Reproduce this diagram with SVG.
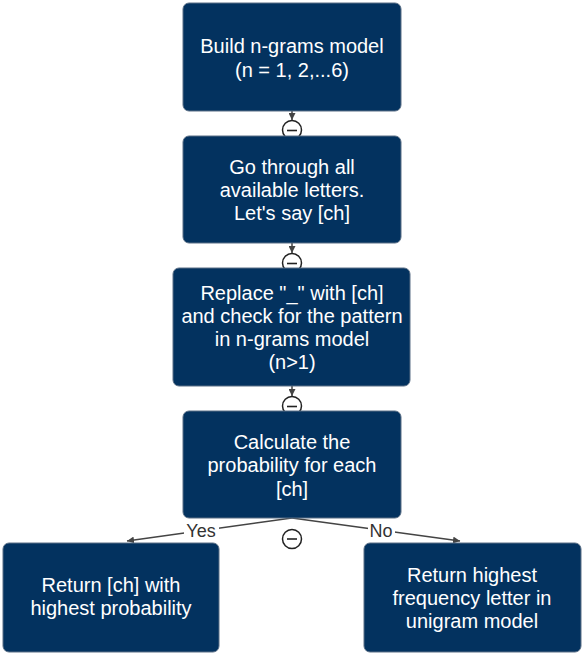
<svg xmlns="http://www.w3.org/2000/svg" width="586" height="662" viewBox="0 0 586 662">
<style>
.box{fill:#03325f;stroke:#5a6f86;stroke-width:1}
.t{font-family:"Liberation Sans",Arial,sans-serif;font-size:20px;fill:#ffffff;text-anchor:middle}
.e{stroke:#444;stroke-width:1.5;fill:none}
.c{fill:#fff;stroke:#222;stroke-width:1.5}
.lbl{font-family:"Liberation Sans",Arial,sans-serif;font-size:18px;fill:#333;text-anchor:middle}
</style>
<defs>
<marker id="ah" viewBox="0 0 10 10" refX="10" refY="5" markerWidth="7" markerHeight="7" orient="auto" markerUnits="userSpaceOnUse">
<path d="M0,0 L10,5 L0,10 z" fill="#444"/>
</marker>
</defs>
<g id="connectors">
<line class="e" x1="292" y1="111" x2="292" y2="120" marker-end="url(#ah)"/>
<circle class="c" cx="292" cy="130" r="9.5"/><line x1="287" y1="130.5" x2="297" y2="130.5" stroke="#222" stroke-width="1.6"/>
<line class="e" x1="292" y1="243" x2="292" y2="253" marker-end="url(#ah)"/>
<circle class="c" cx="292" cy="263" r="9.5"/><line x1="287" y1="263.5" x2="297" y2="263.5" stroke="#222" stroke-width="1.6"/>
<line class="e" x1="292" y1="386" x2="292" y2="396" marker-end="url(#ah)"/>
<circle class="c" cx="292" cy="406" r="9.5"/><line x1="287" y1="406.5" x2="297" y2="406.5" stroke="#222" stroke-width="1.6"/>
<line class="e" x1="292" y1="518" x2="127" y2="541" marker-end="url(#ah)"/>
<line class="e" x1="292" y1="518" x2="460" y2="541" marker-end="url(#ah)"/>
<rect x="184" y="521" width="35" height="19" fill="#fff"/>
<text class="lbl" x="201" y="537">Yes</text>
<rect x="368" y="521" width="27" height="19" fill="#fff"/>
<text class="lbl" x="381" y="537">No</text>
<circle class="c" cx="292" cy="539" r="9.5"/><line x1="287" y1="539" x2="297" y2="539" stroke="#222" stroke-width="1.6"/>
</g>
<g id="n1"><rect class="box" x="183" y="3" width="218" height="108" rx="6"/>
<text class="t" x="292" y="53">Build n-grams model</text><text class="t" x="292" y="77">(n = 1, 2,...6)</text></g>
<g id="n2"><rect class="box" x="183" y="136" width="218" height="107" rx="6"/>
<text class="t" x="292" y="174">Go through all</text><text class="t" x="292" y="197">available letters.</text><text class="t" x="292" y="220">Let's say [ch]</text></g>
<g id="n3"><rect class="box" x="173" y="268" width="237" height="118" rx="6"/>
<text class="t" x="292" y="300">Replace "_" with [ch]</text><text class="t" x="292" y="323">and check for the pattern</text><text class="t" x="292" y="346">in n-grams model</text><text class="t" x="292" y="369">(n&gt;1)</text></g>
<g id="n4"><rect class="box" x="183" y="411" width="218" height="107" rx="6"/>
<text class="t" x="292" y="449">Calculate the</text><text class="t" x="292" y="472">probability for each</text><text class="t" x="292" y="496">[ch]</text></g>
<g id="n5"><rect class="box" x="3" y="543" width="216" height="109" rx="6"/>
<text class="t" x="111" y="592">Return [ch] with</text><text class="t" x="111" y="615">highest probability</text></g>
<g id="n6"><rect class="box" x="364" y="543" width="217" height="109" rx="6"/>
<text class="t" x="472" y="582">Return highest</text><text class="t" x="472" y="605">frequency letter in</text><text class="t" x="472" y="628">unigram model</text></g>
</svg>
